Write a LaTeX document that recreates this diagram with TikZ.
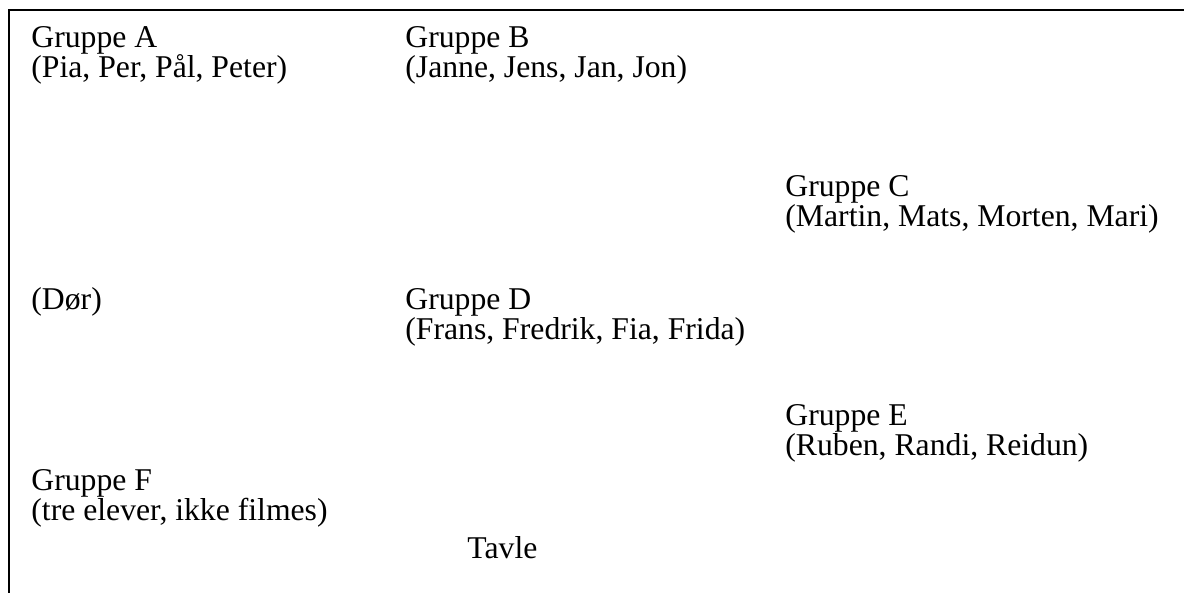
\documentclass[tikz,border=0pt]{standalone}
\usepackage{fontspec}
\setmainfont{Liberation Serif}
\usepackage{tikz}
\usetikzlibrary{positioning}
\newcommand{\LSKIP}{15pt}
\tikzset{
  navn/.style={inner sep=0pt, anchor=base west, font=\fontsize{15.85}{15}\selectfont},
}

\begin{document}
\begin{tikzpicture}[x=0.5pt, y=-0.5pt]
	\useasboundingbox (0,0) rectangle (1184,593);
	% klasserommet (bare to vegger synlige)
	\coordinate (hjorne) at (9,10);
	\coordinate (hoyre) at (1184,10);
	\coordinate (bunn) at (9,593);
	\draw[line width=1pt] (bunn) -- (hjorne) -- (hoyre);

	\node[navn] (gA) at (31,48) {Gruppe A};
	\node[navn] (gAe) at ([yshift=-\LSKIP]gA.base west) {(Pia, Per, Pål, Peter)};

	\node[navn] (gB) at (405,48) {Gruppe B};
	\node[navn] (gBe) at ([yshift=-\LSKIP]gB.base west) {(Janne, Jens, Jan, Jon)};

	\node[navn] (gC) at (785,197) {Gruppe C};
	\node[navn] (gCe) at ([yshift=-\LSKIP]gC.base west) {(Martin, Mats, Morten, Mari)};

	\node[navn] (dor) at (31,310) {(Dør)};

	\node[navn] (gD) at (405,310) {Gruppe D};
	\node[navn] (gDe) at ([yshift=-\LSKIP]gD.base west) {(Frans, Fredrik, Fia, Frida)};

	\node[navn] (gE) at (785,425) {Gruppe E};
	\node[navn] (gEe) at ([yshift=-\LSKIP]gE.base west) {(Ruben, Randi, Reidun)};

	\node[navn] (gF) at (31,490) {Gruppe F};
	\node[navn] (gFe) at ([yshift=-\LSKIP]gF.base west) {(tre elever, ikke filmes)};

	\node[navn] (tavle) at (467,558) {Tavle};
\end{tikzpicture}
\end{document}
